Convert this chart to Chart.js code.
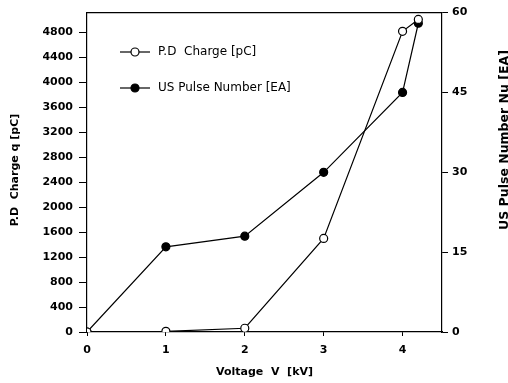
<!DOCTYPE html>
<html>
<head>
<meta charset="utf-8">
<script src="https://cdn.jsdelivr.net/npm/chart.js@4/dist/chart.umd.min.js"></script>
<style>
html,body{margin:0;padding:0;background:#fff;}
#wrap{width:508px;height:383px;position:relative;}
</style>
</head>
<body>
<div id="wrap"><canvas id="c" width="508" height="383"></canvas></div>
<script>
const voltage = [0, 1, 2, 3, 4, 4.2];
const pdCharge = [0, 10, 60, 1500, 4820, 5010];
const usPulse = [0, 16, 18, 30, 45, 58];
const xTicks = [0, 1, 2, 3, 4];
const leftTicks = [0, 400, 800, 1200, 1600, 2000, 2400, 2800, 3200, 3600, 4000, 4400, 4800];
const rightTicks = [0, 15, 30, 45, 60];
const seriesNames = ['P.D  Charge [pC]', 'US Pulse Number [EA]'];
const xTitle = 'Voltage  V  [kV]';
const leftTitle = 'P.D  Charge q [pC]';
const rightTitle = 'US Pulse Number Nu [EA]';

const FONT = 'DejaVu Sans';
const tickFont = {family: FONT, size: 11, weight: 'bold'};
const plain = v => String(v);

function keep(list){ return function(scale){ scale.ticks = list.map(v => ({value: v})); }; }

const overlay = {
  id: 'overlay',
  afterDraw(chart){
    const ctx = chart.ctx, a = chart.chartArea;
    ctx.save();
    ctx.strokeStyle = '#000'; ctx.lineWidth = 1.2;
    ctx.beginPath(); ctx.moveTo(a.left, a.top); ctx.lineTo(a.right, a.top); ctx.stroke();
    ctx.fillStyle = '#000';
    ctx.font = 'bold 11px ' + FONT;
    ctx.textAlign = 'center'; ctx.textBaseline = 'middle';
    ctx.fillText(xTitle, (a.left + a.right) / 2, 372);
    ctx.save(); ctx.translate(15, 170); ctx.rotate(-Math.PI/2); ctx.fillText(leftTitle, 0, 0); ctx.restore();
    ctx.font = 'bold 12.5px ' + FONT;
    ctx.save(); ctx.translate(505, 140); ctx.rotate(-Math.PI/2); ctx.fillText(rightTitle, 0, 0); ctx.restore();
    // legend
    const ys = [52, 88];
    chart.data.datasets.forEach((ds, i) => {
      const y = ys[i];
      ctx.lineWidth = 1.2; ctx.strokeStyle = '#000';
      ctx.beginPath(); ctx.moveTo(120, y); ctx.lineTo(150, y); ctx.stroke();
      ctx.beginPath(); ctx.arc(135, y, 4, 0, Math.PI*2);
      ctx.fillStyle = ds.pointBackgroundColor; ctx.fill(); ctx.stroke();
      ctx.fillStyle = '#000';
      ctx.font = '12px ' + FONT; ctx.textAlign = 'left';
      ctx.fillText(ds.label, 158, y);
    });
    ctx.restore();
  }
};

new Chart(document.getElementById('c'), {
  type: 'scatter',
  data: {
    datasets: [
      {
        label: seriesNames[0],
        data: voltage.map((v, i) => ({x: v, y: pdCharge[i]})),
        yAxisID: 'y', showLine: true,
        borderColor: '#000', borderWidth: 1.2,
        pointBackgroundColor: '#fff', pointBorderColor: '#000', pointBorderWidth: 1.2,
        pointRadius: 4, tension: 0
      },
      {
        label: seriesNames[1],
        data: voltage.map((v, i) => ({x: v, y: usPulse[i]})),
        yAxisID: 'y1', showLine: true,
        borderColor: '#000', borderWidth: 1.2,
        pointBackgroundColor: '#000', pointBorderColor: '#000', pointBorderWidth: 1.2,
        pointRadius: 4, tension: 0
      }
    ]
  },
  options: {
    responsive: false, animation: false,
    layout: {padding: {top: 10, left: 0, right: 0, bottom: 0}},
    plugins: {legend: {display: false}, tooltip: {enabled: false}},
    scales: {
      x: {
        type: 'linear', min: 0, max: 4.5,
        afterBuildTicks: keep(xTicks),
        afterFit(s){ s.height = 51; },
        grid: {drawOnChartArea: false, drawTicks: true, tickLength: 4, color: '#000', tickColor: '#000', tickWidth: 1},
        border: {display: true, color: '#000', width: 1.2},
        ticks: {color: '#000', font: tickFont, padding: 8, maxRotation: 0, callback: plain}
      },
      y: {
        type: 'linear', position: 'left', min: 0, max: 5120,
        afterBuildTicks: keep(leftTicks),
        afterFit(s){ s.width = 87; },
        grid: {drawOnChartArea: false, drawTicks: true, tickLength: 8, color: '#000', tickColor: '#000', tickWidth: 1},
        border: {display: true, color: '#000', width: 1.2},
        ticks: {color: '#000', font: tickFont, padding: 6, callback: plain}
      },
      y1: {
        type: 'linear', position: 'right', min: 0, max: 60,
        afterBuildTicks: keep(rightTicks),
        afterFit(s){ s.width = 66; },
        grid: {drawOnChartArea: false, drawTicks: true, tickLength: 6, color: '#000', tickColor: '#000', tickWidth: 1},
        border: {display: true, color: '#000', width: 1.2},
        ticks: {color: '#000', font: tickFont, padding: 4, callback: plain}
      }
    }
  },
  plugins: [overlay]
});
</script>
</body>
</html>
